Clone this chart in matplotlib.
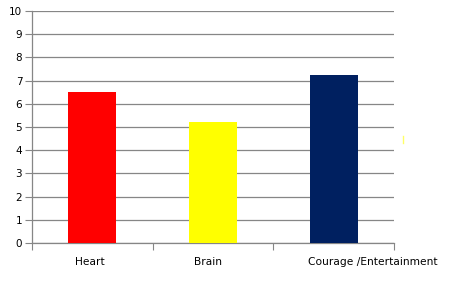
import matplotlib
matplotlib.use("Agg")
import matplotlib.pyplot as plt
from matplotlib.lines import Line2D
from matplotlib.transforms import ScaledTranslation

categories = ["Heart", "Brain", "Courage /Entertainment"]
values = [6.5, 5.2, 7.25]
colors = ["#ff0000", "#ffff00", "#002060"]
yticks = list(range(0, 11))

fig = plt.figure(figsize=(4.55, 2.91), dpi=100)
ax = fig.add_axes([32/455, 1-243/291, (394-32)/455, (243-11)/291])

x = list(range(len(categories)))
ax.bar(x, values, width=0.4, color=colors, zorder=3)
ax.set_xlim(-0.5, 2.5)
ax.set_ylim(0, 10)
ax.set_yticks(yticks)
ax.yaxis.grid(True, color="#868686", linewidth=0.9, zorder=0)
for s in ["top", "right"]:
    ax.spines[s].set_visible(False)
for s in ["left", "bottom"]:
    ax.spines[s].set_color("#868686")
    ax.spines[s].set_linewidth(0.9)
ax.tick_params(axis="y", length=5, color="#868686", labelsize=7.5, pad=2)
ax.set_xticks([-0.5, 0.5, 1.5, 2.5])
ax.set_xticklabels([])
ax.set_xticks(x, minor=True)
ax.set_xticklabels(categories, minor=True, fontsize=7.7)
ax.tick_params(axis="x", which="major", length=5, color="#868686")
ax.tick_params(axis="x", which="minor", length=0, pad=10)

offsets_px = [-2.5, -5, 39]
for lab, dx in zip(ax.get_xticklabels(minor=True), offsets_px):
    lab.set_transform(lab.get_transform() + ScaledTranslation(dx / 100, 0, fig.dpi_scale_trans))

fig.add_artist(Line2D([403/455, 403/455], [1-143/291, 1-136/291], color="#ffff66", linewidth=1))

fig.savefig("out.png", dpi=100)
